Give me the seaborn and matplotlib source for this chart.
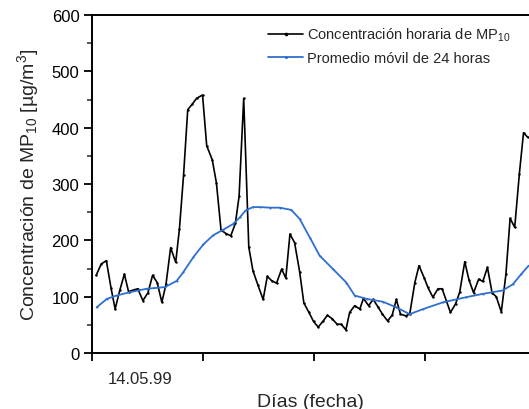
import matplotlib
matplotlib.use("Agg")
import matplotlib.pyplot as plt
import seaborn as sns
import numpy as np
from matplotlib.ticker import MultipleLocator, FixedLocator

# ---- data (hours since 14.05.99 00:00) ----
hourly_h = [0.9, 2.0, 3.1, 4.1, 5.0, 6.0, 7.0, 7.9, 9.0, 9.9, 11.0, 12.1, 13.1, 14.1,
            15.1, 16.0, 17.0, 18.1, 18.9, 19.8, 20.7, 21.7, 22.6, 23.9, 24.8, 26.0,
            26.9, 27.9, 29.0, 30.0, 31.0, 31.8, 32.8, 33.9, 34.8, 35.9, 37.0, 37.9,
            38.9, 39.9, 41.0, 41.9, 42.8, 43.8, 44.9, 45.8, 46.9, 47.9, 48.9, 50.0,
            50.9, 51.9, 53.0, 53.9, 54.9, 55.7, 56.8, 57.9, 58.7, 59.8, 60.8, 61.9,
            62.8, 63.9, 64.9, 65.8, 66.7, 67.8, 68.7, 69.8, 70.7, 71.8, 72.6, 73.7,
            74.8, 75.7, 76.6, 77.5, 78.6, 79.5, 80.6, 81.5, 82.5, 83.6, 84.5, 85.5,
            86.5, 87.4, 88.5, 89.5, 90.4, 91.4, 92.4, 93.3, 94.2]
hourly_v = [138, 158, 164, 116, 78, 111, 140, 109, 112, 114, 93, 107, 138, 125,
            90, 122, 187, 161, 220, 316, 432, 442, 452, 458, 368, 343,
            302, 218, 212, 208, 230, 278, 452, 188, 146, 120, 95, 136,
            128, 124, 149, 133, 211, 196, 144, 89, 72, 56, 46, 57,
            67, 61, 51, 51, 41, 72, 84, 78, 97, 84, 95, 81,
            69, 57, 67, 95, 69, 66, 69, 125, 155, 134, 117, 99,
            114, 114, 93, 72, 87, 108, 162, 130, 107, 131, 127, 152,
            107, 100, 73, 140, 239, 223, 318, 391, 383]

avg_h = [1.0, 3.2, 5.3, 8.2, 11.8, 15.8, 18.3, 19.7, 21.9, 24.1, 26.2, 28.4, 30.5,
         32.0, 33.2, 34.8, 36.3, 38.5, 40.6, 43.1, 44.9, 47.1, 49.2, 52.1, 55.0,
         56.8, 59.4, 62.9, 65.8, 68.7, 71.6, 75.9, 80.9, 84.5, 88.8, 91.0, 92.8, 94.4]
avg_v = [81, 96, 102, 108, 114, 117, 128, 143, 170, 193, 209, 219, 229,
         241, 253, 259, 259, 258, 258, 254, 238, 205, 173, 149, 125,
         102, 96, 91, 81, 69, 78, 90, 99, 105, 111, 122, 140, 155]

day_ticks = [0, 24, 48, 72]
day_label_pos = [10.5]
day_labels = ["14.05.99"]

label_hourly = "Concentración horaria de MP$_{10}$"
label_avg = "Promedio móvil de 24 horas"

# ---- style ----
sns.set_style("ticks")
plt.rcParams["font.family"] = ["Liberation Sans", "DejaVu Sans"]
plt.rcParams["mathtext.default"] = "regular"

fig = plt.figure(figsize=(5.29, 4.10), dpi=100)
ax = fig.add_axes([92 / 529, 1 - 354 / 410, 1 - 92 / 529, (354 - 16) / 410])

sns.lineplot(x=hourly_h, y=hourly_v, ax=ax, color="black", lw=1.2,
             marker=".", markersize=3.5, markeredgewidth=0, label=label_hourly)
sns.lineplot(x=avg_h, y=avg_v, ax=ax, color="#2f6fd0", lw=1.3,
             marker=".", markersize=3.0, markeredgewidth=0, label=label_avg)

ax.set_xlim(0, (529 - 92) / 4.625)
ax.set_ylim(0, 600)

ax.yaxis.set_major_locator(MultipleLocator(100))
ax.yaxis.set_minor_locator(MultipleLocator(50))
ax.xaxis.set_major_locator(FixedLocator(day_ticks))
ax.xaxis.set_minor_locator(FixedLocator(day_label_pos))
ax.set_xticklabels([])
ax.set_xticklabels(day_labels, minor=True)

ax.tick_params(axis="both", which="major", direction="out", length=6, width=1.3,
               labelsize=12, colors="black")
ax.tick_params(axis="y", which="minor", direction="out", length=3.5, width=1.1)
ax.tick_params(axis="x", which="minor", length=0, pad=13, labelsize=12)
ax.tick_params(axis="y", which="major", pad=3)

for side in ["left", "bottom", "top"]:
    ax.spines[side].set_visible(True)
    ax.spines[side].set_linewidth(1.4)
    ax.spines[side].set_color("black")
ax.spines["right"].set_visible(False)

ax.set_xlabel("Días (fecha)", fontsize=14, labelpad=5)
ax.set_ylabel("Concentración de MP$_{10}$ [µg/m$^3$]", fontsize=14, labelpad=8)

leg = ax.legend(loc="upper left", bbox_to_anchor=((268 - 92) / 437, 1 - (27 - 16) / 338),
                frameon=False, fontsize=10.5, handlelength=2.4, handletextpad=0.3,
                borderaxespad=0, borderpad=0, labelspacing=0.55, numpoints=1,
                markerscale=1.5)

fig.savefig("out.png", dpi=100)
